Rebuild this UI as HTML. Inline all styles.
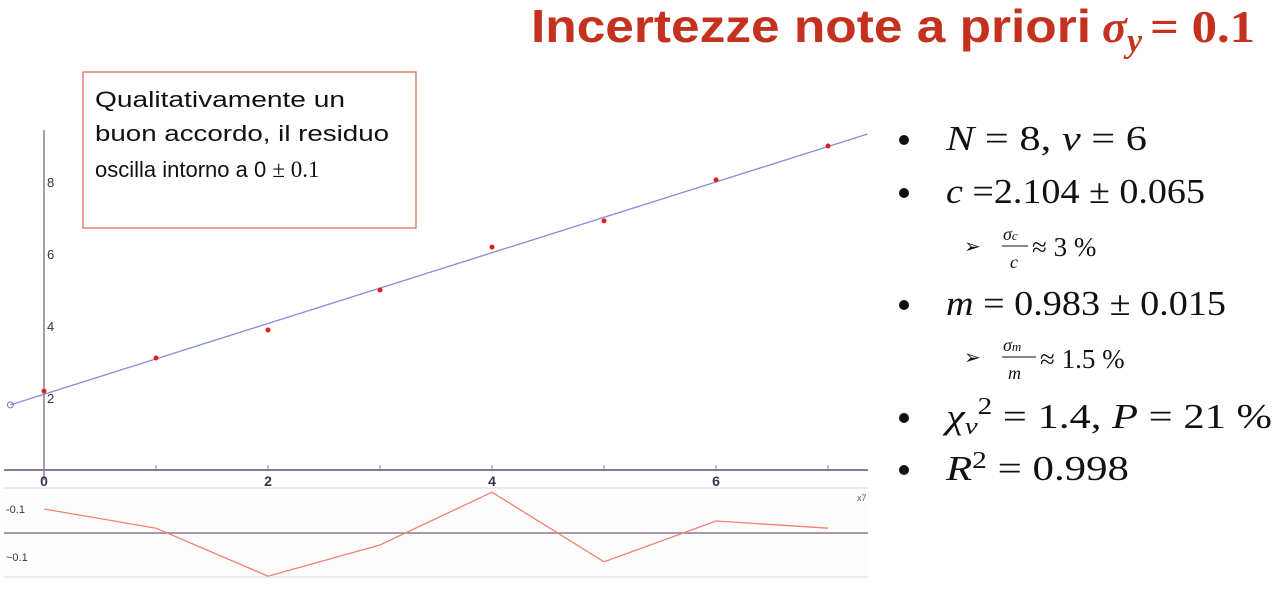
<!DOCTYPE html>
<html><head><meta charset="utf-8"><style>
html,body{margin:0;padding:0;background:#fff;width:1273px;height:594px;overflow:hidden}
svg{display:block}
.m{font-family:"Liberation Serif",serif}
</style></head><body>
<svg id="c" width="1273" height="594" xmlns="http://www.w3.org/2000/svg">
<text x="531" y="42" font-family="'Liberation Sans Narrow','Liberation Sans',sans-serif" font-weight="bold" font-size="46" fill="#c5311f" textLength="560" lengthAdjust="spacingAndGlyphs">Incertezze note a priori</text>
<text x="1102" y="42" class="m" font-style="italic" font-weight="bold" font-size="46" fill="#c5311f">σ</text>
<text x="1127" y="52" class="m" font-style="italic" font-weight="bold" font-size="34" fill="#c5311f">y</text>
<text x="1150" y="42" class="m" font-weight="bold" font-size="46" fill="#c5311f" textLength="105" lengthAdjust="spacingAndGlyphs">= 0.1</text>

<g id="plot"></g>

<rect x="83" y="72" width="333" height="156" fill="#fff" stroke="#e0604a" stroke-width="1.2"/>
<g font-family="'Liberation Sans',sans-serif" font-size="22" fill="#111">
<text x="95" y="107" textLength="250" lengthAdjust="spacingAndGlyphs">Qualitativamente un</text>
<text x="95" y="141" textLength="294" lengthAdjust="spacingAndGlyphs">buon accordo, il residuo</text>
<text x="95" y="177">oscilla intorno a 0 <tspan class="m" font-size="23">± 0.1</tspan></text>
</g>

<g class="m" font-size="35" fill="#111">
<circle cx="904" cy="140" r="5" fill="#111"/><text x="946" y="150" textLength="201" lengthAdjust="spacingAndGlyphs"><tspan font-style="italic">N</tspan> = 8, <tspan font-style="italic">ν</tspan> = 6</text>
<circle cx="904" cy="193" r="5" fill="#111"/><text x="946" y="203" textLength="259" lengthAdjust="spacingAndGlyphs"><tspan font-style="italic">c</tspan> =2.104 ± 0.065</text>
<text x="964" y="253" font-size="20">➢</text>
<text x="1003" y="240" font-size="18" font-style="italic">σ<tspan font-size="13">c</tspan></text><line x1="1002" y1="246" x2="1028" y2="246" stroke="#111"/><text x="1010" y="268" font-size="18" font-style="italic">c</text>
<text x="1032" y="256" font-size="27">≈ 3 %</text>
<circle cx="904" cy="305" r="5" fill="#111"/><text x="946" y="315" textLength="280" lengthAdjust="spacingAndGlyphs"><tspan font-style="italic">m</tspan> = 0.983 ± 0.015</text>
<text x="964" y="364" font-size="20">➢</text>
<text x="1003" y="351" font-size="18" font-style="italic">σ<tspan font-size="13">m</tspan></text><line x1="1002" y1="357" x2="1036" y2="357" stroke="#111"/><text x="1008" y="379" font-size="18" font-style="italic">m</text>
<text x="1040" y="368" font-size="27">≈ 1.5 %</text>
<circle cx="904" cy="418" r="5" fill="#111"/><text x="946" y="428" textLength="326" lengthAdjust="spacingAndGlyphs"><tspan font-style="italic">χ</tspan><tspan font-style="italic" font-size="24" dy="6">ν</tspan><tspan font-size="24" dy="-20">2</tspan><tspan dy="14"> = 1.4, </tspan><tspan font-style="italic">P</tspan> = 21 %</text>
<circle cx="904" cy="470" r="5" fill="#111"/><text x="946" y="480" textLength="183" lengthAdjust="spacingAndGlyphs"><tspan font-style="italic">R</tspan><tspan font-size="24" dy="-12">2</tspan><tspan dy="12"> = 0.998</tspan></text>
</g>
</svg>
<script>
const xs=[0,1,2,3,4,5,6,7];
const ys=[2.19,3.11,3.89,5.0,6.19,6.92,8.06,9.0];
const residuals=[0.10,0.02,-0.18,-0.05,0.17,-0.12,0.05,0.02];
const fitC=2.104, fitM=0.983;
const xTicks=[0,2,4,6];
const yTicks=[2,4,6,8];
const resTicks=[0.1,-0.1];
const NS="http://www.w3.org/2000/svg";
const sx=v=>44+v*112, sy=v=>470-v*36, sr=v=>533-v*240;
const g=document.getElementById('plot');
function mk(t,a){const e=document.createElementNS(NS,t);for(const k in a)e.setAttribute(k,a[k]);g.appendChild(e);return e;}
let e;
e=mk('rect',{x:0,y:487,width:870,height:92,fill:'#fdfdfd'});


mk('line',{x1:4,y1:488,x2:868,y2:488,stroke:'#ececec','stroke-width':2});
mk('line',{x1:4,y1:577,x2:868,y2:577,stroke:'#ececec','stroke-width':2});
e=mk('line',{x1:44,y1:130,x2:44,y2:480,stroke:'#8a7a9a','stroke-width':1.5});


e=mk('line',{x1:4,y1:470,x2:868,y2:470,stroke:'#8a7a9a','stroke-width':2});


for(let i=1;i<=7;i++){mk('line',{x1:sx(i),y1:465,x2:sx(i),y2:470,stroke:'#8a7a9a'});}
xTicks.forEach(t=>{e=mk('text',{x:sx(t),y:486,'text-anchor':'middle','font-family':'Liberation Sans,sans-serif','font-size':14,'font-weight':'bold',fill:'#3a3050'});e.textContent=t;

});
yTicks.forEach(t=>{e=mk('text',{x:47,y:sy(t)+5,'font-family':'Liberation Sans,sans-serif','font-size':13,fill:'#3a3050'});e.textContent=t;

});
e=mk('line',{x1:sx(-0.3),y1:sy(fitC-0.3*fitM),x2:sx(7.35),y2:sy(fitC+7.35*fitM),stroke:'#7f8fdc','stroke-width':1.3});


mk('circle',{cx:sx(-0.3),cy:sy(fitC-0.3*fitM),r:3,fill:'none',stroke:'#8a7a9a'});
xs.forEach((x,i)=>{e=mk('circle',{cx:sx(x),cy:sy(ys[i]),r:2.5,fill:'#e02020'});

});
e=mk('line',{x1:4,y1:533,x2:868,y2:533,stroke:'#8a7a9a','stroke-width':1.5});


resTicks.forEach(t=>{e=mk('text',{x:6,y:sr(t)+4,'font-family':'Liberation Sans,sans-serif','font-size':11,fill:'#3a3050'});e.textContent=(t>0?'-':'~')+Math.abs(t);

});
e=mk('text',{x:857,y:501,'font-family':'Liberation Sans,sans-serif','font-size':9,fill:'#555'});e.textContent='x7';
e=mk('polyline',{points:xs.map((x,i)=>sx(x)+','+sr(residuals[i])).join(' '),fill:'none',stroke:'#f08070','stroke-width':1.3});


</script>
</body></html>
